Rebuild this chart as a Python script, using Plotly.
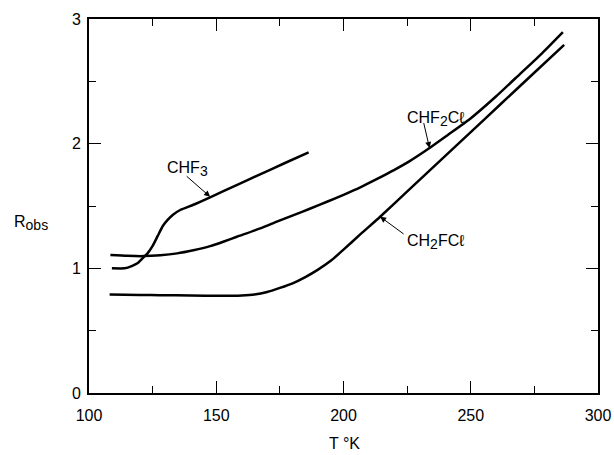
import plotly.graph_objects as go

# ---- data ----
chf3_T = [109, 114, 117, 119, 121, 123, 125, 127, 129, 131, 133, 136, 141, 148, 158, 167, 177, 186.3]
chf3_R = [1.0, 1.0, 1.02, 1.04, 1.08, 1.12, 1.18, 1.26, 1.34, 1.39, 1.43, 1.47, 1.51, 1.574, 1.668, 1.752, 1.845, 1.93]

chf2cl_T = [108.4, 115, 121.4, 128, 134.6, 141, 147.6, 153, 158.1, 167.3, 173.8, 180.4, 187, 193.5, 200, 206.6,
            213, 220, 226, 233.8, 241, 249.8, 260, 269.4, 278, 286.2]
chf2cl_R = [1.106, 1.10, 1.098, 1.105, 1.12, 1.145, 1.178, 1.215, 1.253, 1.32, 1.374, 1.427, 1.48, 1.534, 1.59, 1.65,
            1.715, 1.79, 1.86, 1.965, 2.07, 2.2, 2.38, 2.56, 2.725, 2.895]

ch2fcl_T = [108.1, 120, 128, 140, 151.6, 160, 165, 170, 175, 180, 185, 190, 195, 200, 207, 214.4,
            226, 238, 250, 262, 274, 286.7]
ch2fcl_R = [0.79, 0.787, 0.785, 0.782, 0.78, 0.783, 0.79, 0.81, 0.843, 0.88, 0.93, 0.99, 1.06, 1.15, 1.28, 1.414,
            1.635, 1.864, 2.093, 2.322, 2.551, 2.793]

x_ticks = [100, 150, 200, 250, 300]
x_ticktext = ["100", "150", "200", "250", "300"]
y_ticks = [0, 1, 2, 3]
y_ticktext = ["0", "1", "2", "3"]

FONT = "Liberation Sans, Arial, sans-serif"

fig = go.Figure()
for T, R in [(chf3_T, chf3_R), (chf2cl_T, chf2cl_R), (ch2fcl_T, ch2fcl_R)]:
    fig.add_trace(go.Scatter(x=T, y=R, mode="lines",
                             line=dict(color="black", width=2.5, shape="spline", smoothing=0.5),
                             showlegend=False, hoverinfo="skip"))

axis_common = dict(
    showgrid=False, zeroline=False, showline=True, linecolor="black", linewidth=2,
    ticks="inside", ticklen=12, tickwidth=1.3, tickcolor="black", mirror="ticks",
    tickfont=dict(family=FONT, size=16, color="black"), automargin=False,
)
fig.update_xaxes(range=[100, 300], tickvals=x_ticks, ticktext=x_ticktext, ticklabelstandoff=7,
                 minor=dict(ticks="inside", ticklen=7, dtick=25, tickcolor="black", tickwidth=1.3),
                 **axis_common)
fig.update_yaxes(range=[0, 3], tickvals=y_ticks, ticktext=y_ticktext, ticklabelstandoff=3,
                 minor=dict(ticks="inside", ticklen=7, dtick=0.5, tickcolor="black", tickwidth=1.3),
                 **axis_common)


def sub(s):
    return "<sub><span style='font-size:14px'>" + s + "</span></sub>"


tf = dict(family=FONT, size=16, color="black")
annots = [
    dict(x=130.0, y=1.80, text="CHF" + sub("3"), xanchor="left", yanchor="middle", showarrow=False, font=tf),
    dict(x=224.2, y=2.20, text="CHF" + sub("2") + "Cℓ", xanchor="left", yanchor="middle", showarrow=False, font=tf),
    dict(x=224.2, y=1.21, text="CH" + sub("2") + "FCℓ", xanchor="left", yanchor="middle", showarrow=False, font=tf),
    dict(x=-0.1506, y=0.455, xref="paper", yref="paper", text="R" + sub("obs"), xanchor="left",
         yanchor="middle", showarrow=False, font=tf),
    dict(x=0.5013, y=-0.136, xref="paper", yref="paper", text="T °K", xanchor="center", yanchor="middle",
         showarrow=False, font=tf),
    # arrows
    dict(x=147.6, y=1.574, ax=137.8, ay=1.749, axref="x", ayref="y", text="", showarrow=True,
         arrowhead=2, arrowsize=1.2, arrowwidth=1, arrowcolor="black"),
    dict(x=233.8, y=1.965, ax=231.4, ay=2.177, axref="x", ayref="y", text="", showarrow=True,
         arrowhead=2, arrowsize=1.2, arrowwidth=1, arrowcolor="black"),
    dict(x=214.4, y=1.414, ax=224.2, ay=1.267, axref="x", ayref="y", text="", showarrow=True,
         arrowhead=2, arrowsize=1.2, arrowwidth=1, arrowcolor="black"),
]
fig.update_layout(
    width=614, height=455, margin=dict(l=89, r=16, t=19, b=62),
    paper_bgcolor="white", plot_bgcolor="white", annotations=annots,
    font=dict(family=FONT, color="black"),
)
fig.write_html("out.html", config={"displayModeBar": False},
               post_script="document.body.style.margin='0';")
